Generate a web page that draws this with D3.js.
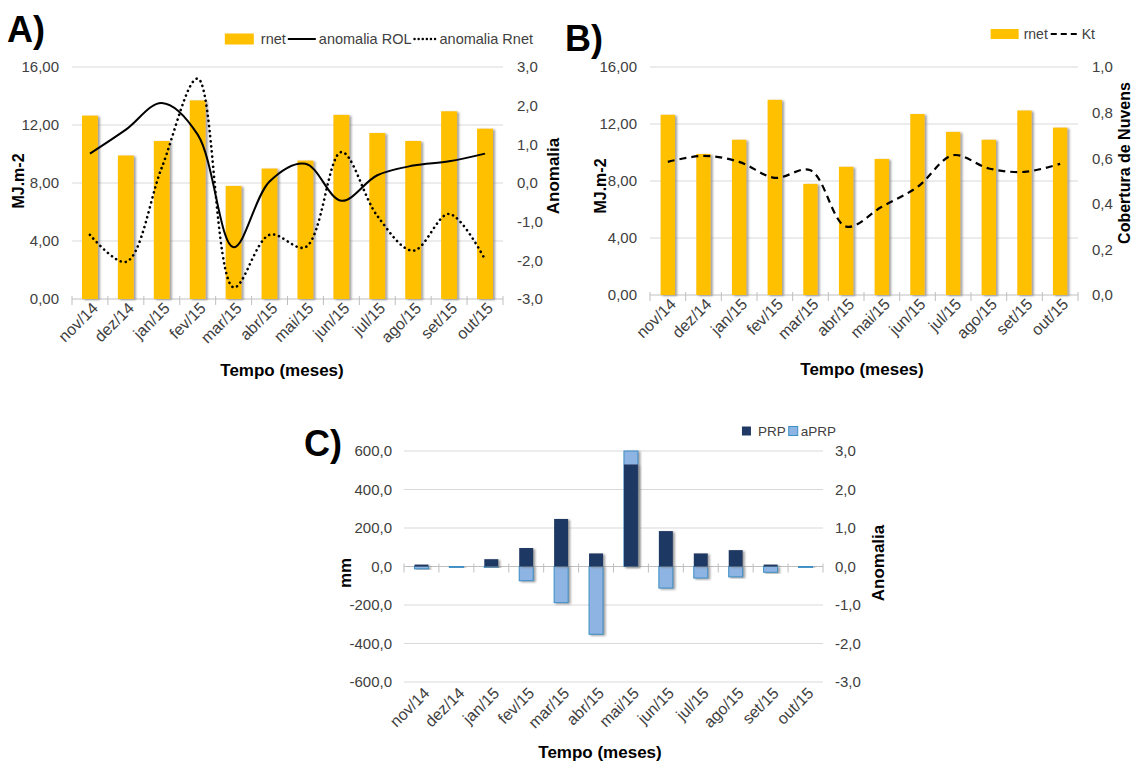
<!DOCTYPE html>
<html>
<head>
<meta charset="utf-8">
<script src="https://cdn.jsdelivr.net/npm/d3@7"></script>
<style>
  body { margin: 0; background: #fff; }
  text { font-family: "Liberation Sans", Arial, sans-serif; fill: #404040; }
  .tick text { font-size: 15px; }
  .xlab .tick text { font-size: 16px; }
  .title { font-weight: bold; fill: #000; }
  .panel { font-weight: bold; font-size: 36px; fill: #000; }
  .leg { fill: #404040; }
</style>
</head>
<body>
<svg id="chart" width="1137" height="765"></svg>
<script>
// ---- data ----
const months = ["nov/14", "dez/14", "jan/15", "fev/15", "mar/15", "abr/15",
                "mai/15", "jun/15", "jul/15", "ago/15", "set/15", "out/15"];

// panel A / B bars (MJ.m-2)
const rnet = [12.65, 9.9, 10.9, 13.7, 7.8, 9.0, 9.55, 12.7, 11.45, 10.9, 12.95, 11.75];
// panel A anomalies
const anomROL  = [0.76, 1.38, 2.07, 1.25, -1.66, 0.04, 0.5, -0.46, 0.2, 0.45, 0.56, 0.76];
const anomRnet = [-1.34, -2.04, 0.4, 2.7, -2.7, -1.34, -1.66, 0.8, -0.85, -1.75, -0.8, -1.98];
// panel B cloud cover
const kt = [0.584, 0.61, 0.584, 0.514, 0.547, 0.30, 0.387, 0.474, 0.613, 0.555, 0.54, 0.575];
// panel C precipitation and its anomaly
const prp  = [10, 0, 38, 96, 247, 68, 530, 184, 68, 85, 10, 0];
const aprp = [-0.06, -0.03, -0.03, -0.37, -0.94, -1.76, 3.0, -0.56, -0.3, -0.27, -0.15, -0.03];

// tick values
const ticksMJ   = [0, 4, 8, 12, 16];
const ticksAnom = [-3, -2, -1, 0, 1, 2, 3];
const ticksKt   = [0, 0.2, 0.4, 0.6, 0.8, 1.0];
const ticksMM   = [-600, -400, -200, 0, 200, 400, 600];

const svg = d3.select("#chart");
const loc = d3.formatLocale({decimal: ",", thousands: ".", grouping: [3], currency: ["", ""], minus: "-"});
const f2 = loc.format(".2f"), f1 = loc.format(".1f");

const defs = svg.append("defs");
defs.append("filter").attr("id", "shadow")
    .attr("x", "-30%").attr("y", "-10%").attr("width", "180%").attr("height", "130%")
  .append("feDropShadow")
    .attr("dx", 2).attr("dy", 1).attr("stdDeviation", 1)
    .attr("flood-color", "#808080").attr("flood-opacity", 0.75);

// common frame: gridlines, category axis with boundary ticks, left/right value axes
function frame(g, x, yL, yR, o) {
    let x0 = x.range()[0], x1 = x.range()[1];

    g.selectAll(".grid").data(o.leftTicks.filter(t => t !== o.base))
        .enter().append("line")
        .attr("x1", x0).attr("x2", x1)
        .attr("y1", d => yL(d)).attr("y2", d => yL(d))
        .attr("stroke", "#d9d9d9").attr("stroke-width", 1);

    let by = yL(o.base);
    g.append("line").attr("x1", x0).attr("x2", x1).attr("y1", by).attr("y2", by)
        .attr("stroke", "#bfbfbf").attr("stroke-width", 1.2);
    g.selectAll(".bt").data(d3.range(months.length + 1))
        .enter().append("line")
        .attr("x1", i => x0 + i * x.step()).attr("x2", i => x0 + i * x.step())
        .attr("y1", by - 3).attr("y2", by + 6)
        .attr("stroke", "#bfbfbf");

    let left = g.append("g")
        .attr("transform", "translate(" + x0 + ",0)")
        .call(d3.axisLeft(yL).tickValues(o.leftTicks).tickFormat(o.fmtL).tickSize(0).tickPadding(o.padL));
    left.select(".domain").remove();

    let right = g.append("g")
        .attr("transform", "translate(" + x1 + ",0)")
        .call(d3.axisRight(yR).tickValues(o.rightTicks).tickFormat(o.fmtR).tickSize(0).tickPadding(o.padR));
    right.select(".domain").remove();

    let bottom = g.append("g").attr("class", "xlab")
        .attr("transform", "translate(0," + o.labelY + ")")
        .call(d3.axisBottom(x).tickSize(0).tickFormat(d => d));
    bottom.select(".domain").remove();
    bottom.selectAll("text")
        .attr("text-anchor", "end")
        .attr("dy", 0)
        .attr("transform", "translate(7,8) rotate(-45)");

    g.append("text").attr("class", "title")
        .attr("x", o.xTitle[0]).attr("y", o.xTitle[1])
        .attr("text-anchor", "middle").attr("font-size", 17)
        .text("Tempo (meses)");
    g.append("text").attr("class", "title")
        .attr("transform", "translate(" + o.lTitle[0] + "," + o.lTitle[1] + ") rotate(-90)")
        .attr("text-anchor", "middle").attr("font-size", o.lTitle[2])
        .text(o.lTitle[3]);
    g.append("text").attr("class", "title")
        .attr("transform", "translate(" + o.rTitle[0] + "," + o.rTitle[1] + ") rotate(-90)")
        .attr("text-anchor", "middle").attr("font-size", o.rTitle[2])
        .text(o.rTitle[3]);
}

// legend laid out right-to-left so it ends where the reference legend ends
function legend(g, items, xRight, y, fs) {
    let x = xRight;
    items.slice().reverse().forEach(it => {
        if (it.text) {
            let t = g.append("text").attr("class", "leg").style("font-size", fs + "px")
                .attr("y", y).attr("dy", "0.35em").text(it.text);
            let w = t.node().getComputedTextLength();
            x -= w;
            t.attr("x", x);
            x -= it.gap || 3;
        } else {
            let w = it.w;
            x -= w;
            if (it.kind === "rect") {
                g.append("rect").attr("x", x).attr("y", y - it.h / 2)
                    .attr("width", w).attr("height", it.h)
                    .attr("fill", it.fill).attr("stroke", it.stroke || "none");
            } else {
                g.append("line").attr("x1", x).attr("x2", x + w).attr("y1", y).attr("y2", y)
                    .attr("stroke", "#000").attr("stroke-width", it.sw)
                    .attr("stroke-dasharray", it.dash || null)
                    .attr("stroke-linecap", it.cap || "butt");
            }
            x -= it.gap || 3;
        }
    });
}

function cx(x, m) { return x(m) + x.bandwidth() / 2; }

// ================= Panel A =================
const gA = svg.append("g");
const xA = d3.scaleBand().domain(months).range([72, 503]);
const yAL = d3.scaleLinear().domain([0, 16]).range([299, 67]);
const yAR = d3.scaleLinear().domain([-3, 3]).range([299, 67]);

frame(gA, xA, yAL, yAR, {
    leftTicks: ticksMJ, rightTicks: ticksAnom, base: 0,
    fmtL: f2, fmtR: f1, padL: 13, padR: 14, labelY: 299,
    xTitle: [282, 376], lTitle: [24, 181, 16, "MJ.m-2"], rTitle: [559, 176, 17, "Anomalia"]
});

let bwA = 16;
gA.selectAll(".bar").data(rnet).enter().append("rect")
    .attr("x", (d, i) => cx(xA, months[i]) - bwA / 2)
    .attr("y", d => yAL(d))
    .attr("width", bwA)
    .attr("height", d => yAL(0) - yAL(d))
    .attr("fill", "#ffc000")
    .attr("filter", "url(#shadow)");

const lineA = d3.line()
    .x((d, i) => cx(xA, months[i]))
    .y(d => yAR(d))
    .curve(d3.curveCatmullRom.alpha(0.5));

gA.append("path").datum(anomRnet).attr("d", lineA)
    .attr("fill", "none").attr("stroke", "#000").attr("stroke-width", 2.6)
    .attr("stroke-dasharray", "0.1,5").attr("stroke-linecap", "round");
gA.append("path").datum(anomROL).attr("d", lineA)
    .attr("fill", "none").attr("stroke", "#000").attr("stroke-width", 2);

svg.append("text").attr("class", "panel").attr("x", 7).attr("y", 42).text("A)");

legend(gA, [
    {kind: "rect", w: 29, h: 11, fill: "#ffc000", gap: 4},
    {text: "rnet", gap: 7},
    {kind: "line", w: 28, sw: 2, gap: 2},
    {text: "anomalia ROL", gap: 3},
    {kind: "line", w: 22, sw: 2.4, dash: "0.1,4", cap: "round", gap: 3},
    {text: "anomalia Rnet"}
], 533, 39, 14.5);

// ================= Panel B =================
const gB = svg.append("g");
const xB = d3.scaleBand().domain(months).range([650, 1078]);
const yBL = d3.scaleLinear().domain([0, 16]).range([295, 67]);
const yBR = d3.scaleLinear().domain([0, 1]).range([295, 67]);

frame(gB, xB, yBL, yBR, {
    leftTicks: ticksMJ, rightTicks: ticksKt, base: 0,
    fmtL: f2, fmtR: f1, padL: 13, padR: 14, labelY: 295,
    xTitle: [862, 375], lTitle: [606, 186, 16, "MJ.m-2"], rTitle: [1130, 163, 16, "Cobertura  de  Nuvens"]
});

let bwB = 14.5;
gB.selectAll(".bar").data(rnet).enter().append("rect")
    .attr("x", (d, i) => cx(xB, months[i]) - bwB / 2)
    .attr("y", d => yBL(d))
    .attr("width", bwB)
    .attr("height", d => yBL(0) - yBL(d))
    .attr("fill", "#ffc000")
    .attr("filter", "url(#shadow)");

const lineB = d3.line()
    .x((d, i) => cx(xB, months[i]))
    .y(d => yBR(d))
    .curve(d3.curveCatmullRom.alpha(0.5));

gB.append("path").datum(kt).attr("d", lineB)
    .attr("fill", "none").attr("stroke", "#000").attr("stroke-width", 2.2)
    .attr("stroke-dasharray", "7,5");

svg.append("text").attr("class", "panel").attr("x", 565).attr("y", 51).text("B)");

legend(gB, [
    {kind: "rect", w: 28, h: 10, fill: "#ffc000", gap: 3},
    {text: "rnet", gap: 5},
    {kind: "line", w: 28, sw: 2, dash: "6,4", gap: 3},
    {text: "Kt"}
], 1095, 34, 14);

// ================= Panel C =================
const gC = svg.append("g");
const xC = d3.scaleBand().domain(months).range([404, 823]);
const yCL = d3.scaleLinear().domain([-600, 600]).range([682, 451]);
const yCR = d3.scaleLinear().domain([-3, 3]).range([682, 451]);

frame(gC, xC, yCL, yCR, {
    leftTicks: ticksMM, rightTicks: ticksAnom, base: 0,
    fmtL: f1, fmtR: f1, padL: 12, padR: 12, labelY: 684,
    xTitle: [600, 758], lTitle: [351, 573, 17, "mm"], rTitle: [884, 563, 17, "Anomalia"]
});

let bwC = 14;
gC.selectAll(".abar").data(aprp).enter().append("rect")
    .attr("x", (d, i) => cx(xC, months[i]) - bwC / 2)
    .attr("y", d => Math.min(yCR(d), yCR(0)))
    .attr("width", bwC)
    .attr("height", d => Math.abs(yCR(d) - yCR(0)))
    .attr("fill", "#8eb4e3")
    .attr("stroke", "#3a8fc4").attr("stroke-width", 1)
    .attr("filter", "url(#shadow)");

gC.selectAll(".pbar").data(prp).enter().append("rect")
    .attr("x", (d, i) => cx(xC, months[i]) - bwC / 2)
    .attr("y", d => yCL(d))
    .attr("width", bwC)
    .attr("height", d => yCL(0) - yCL(d))
    .attr("fill", "#1f3864")
    .attr("filter", "url(#shadow)");

svg.append("text").attr("class", "panel").attr("x", 304).attr("y", 456).text("C)");

legend(gC, [
    {kind: "rect", w: 9, h: 9, fill: "#1f3864", gap: 3},
    {text: "PRP", gap: 7},
    {kind: "rect", w: 9, h: 9, fill: "#8eb4e3", stroke: "#3a8fc4", gap: 3},
    {text: "aPRP"}
], 836, 431, 13.5);
</script>
</body>
</html>
